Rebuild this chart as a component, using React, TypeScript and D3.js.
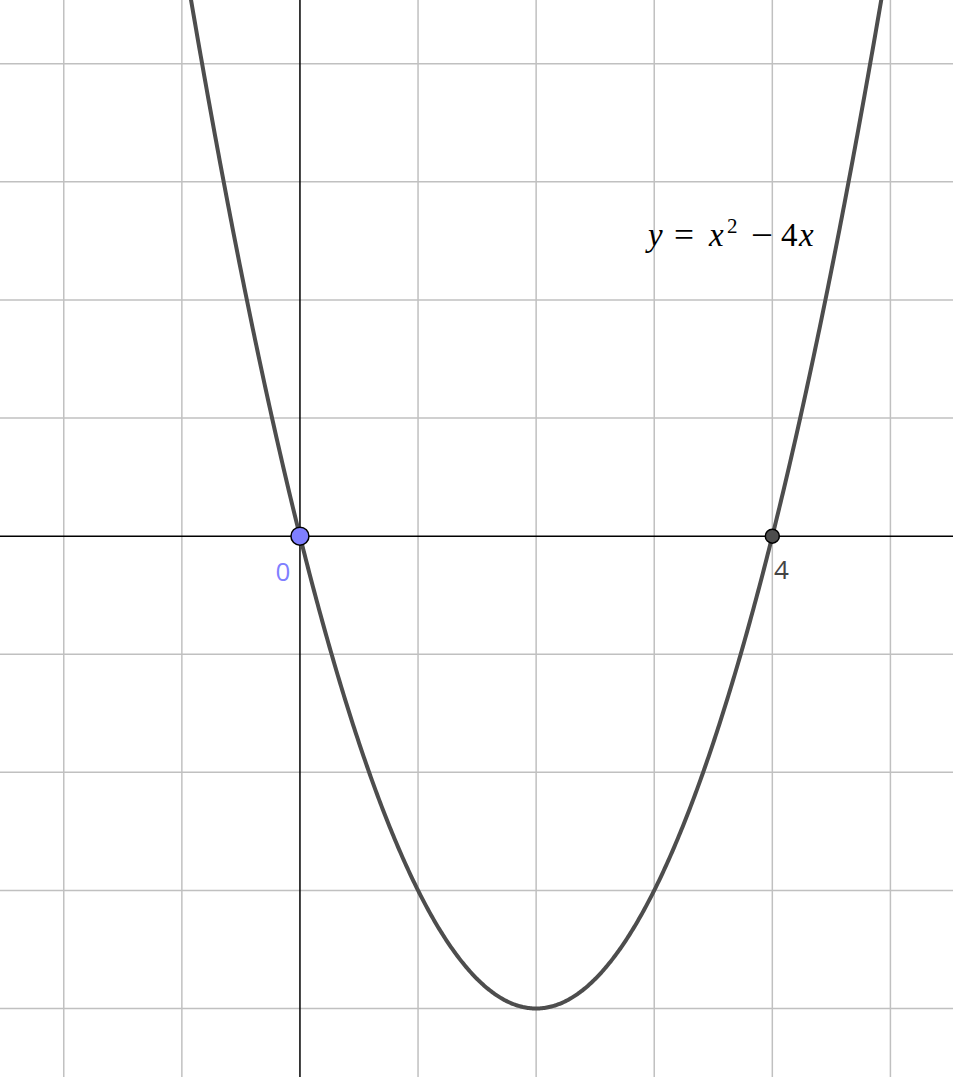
import { useRef, useEffect } from 'react';
import * as d3 from 'd3';

const W = 953;
const H = 1077;

// visible window in graph units
const xDomain = [-2.54, 5.53];
const yDomain = [-4.58, 4.54];

const xGrid = [-2, -1, 0, 1, 2, 3, 4, 5];
const yGrid = [-4, -3, -2, -1, 0, 1, 2, 3, 4];

// y = x^2 - 4x, roots
const roots = [0, 4];
const rootLabels = ['0', '4'];
const rootColors = ['#7f7fff', '#4d4d4d'];
const rootLabelColors = ['#7f7fff', '#444444'];
const rootRadius = [9, 7];

const f = (x: number) => x * x - 4 * x;

// equation pieces: text, italic, x offset, stretched width (0 = natural), size, raise
const eqParts: [string, boolean, number, number, number, number][] = [
  ['y', true, 648, 0, 33, 0],
  ['=', false, 674, 20, 33, 0],
  ['x', true, 709, 0, 33, 0],
  ['2', false, 727, 0, 21, 13],
  ['−', false, 751, 22, 33, 0],
  ['4', false, 781, 0, 33, 0],
  ['x', true, 799, 0, 33, 0],
];

export default function App() {
  const svgRef = useRef<SVGSVGElement>(null);

  useEffect(() => {
    if (!svgRef.current) return;
    const svg = d3.select(svgRef.current);
    svg.selectAll('*').remove();

    const x = d3.scaleLinear().domain(xDomain).range([0, W]);
    const y = d3.scaleLinear().domain(yDomain).range([H, 0]);

    svg.append('rect').attr('width', W).attr('height', H).attr('fill', '#ffffff');

    // grid
    svg
      .append('g')
      .selectAll('line')
      .data(xGrid.filter((d) => d !== 0))
      .join('line')
      .attr('x1', (d) => x(d))
      .attr('x2', (d) => x(d))
      .attr('y1', 0)
      .attr('y2', H)
      .attr('stroke', '#c0c0c0')
      .attr('stroke-width', 1.5);

    svg
      .append('g')
      .selectAll('line')
      .data(yGrid.filter((d) => d !== 0))
      .join('line')
      .attr('y1', (d) => y(d))
      .attr('y2', (d) => y(d))
      .attr('x1', 0)
      .attr('x2', W)
      .attr('stroke', '#c0c0c0')
      .attr('stroke-width', 1.5);

    // axes
    svg.append('line')
      .attr('x1', 0).attr('x2', W)
      .attr('y1', y(0)).attr('y2', y(0))
      .attr('stroke', '#000').attr('stroke-width', 1.5);
    svg.append('line')
      .attr('x1', x(0)).attr('x2', x(0))
      .attr('y1', 0).attr('y2', H)
      .attr('stroke', '#000').attr('stroke-width', 1.5);

    // curve
    const pts = d3.range(xDomain[0], xDomain[1], 0.01).map((v) => [v, f(v)] as [number, number]);
    const line = d3.line<[number, number]>().x((d) => x(d[0])).y((d) => y(d[1]));
    svg.append('path')
      .attr('d', line(pts))
      .attr('fill', 'none')
      .attr('stroke', '#4d4d4d')
      .attr('stroke-width', 4);

    // root points
    const g = svg.append('g');
    roots.forEach((r, i) => {
      g.append('circle')
        .attr('cx', x(r))
        .attr('cy', y(0))
        .attr('r', rootRadius[i])
        .attr('fill', rootColors[i])
        .attr('stroke', '#000')
        .attr('stroke-width', 1.5);
      g.append('text')
        .attr('x', i === 0 ? x(r) - 17 : x(r) + 9)
        .attr('y', i === 0 ? y(0) + 45 : y(0) + 43)
        .attr('text-anchor', 'middle')
        .attr('font-family', 'Open Sans, DejaVu Sans, sans-serif')
        .attr('font-size', 26)
        .attr('fill', rootLabelColors[i])
        .text(rootLabels[i]);
    });

    // equation label, LaTeX-like spacing
    const eq = svg.append('g')
      .attr('font-family', 'Liberation Serif, DejaVu Serif, serif')
      .attr('fill', '#000');
    eqParts.forEach(([s, it, px, w, fs, raise]) => {
      const t = eq.append('text')
        .attr('x', px)
        .attr('y', 246 - raise)
        .attr('font-size', fs)
        .attr('font-style', it ? 'italic' : 'normal')
        .text(s);
      if (w > 0) t.attr('textLength', w).attr('lengthAdjust', 'spacingAndGlyphs');
    });
  }, []);

  return (
    <svg
      ref={svgRef}
      width={W}
      height={H}
      style={{ position: 'absolute', left: 0, top: 0, display: 'block' }}
    />
  );
}
